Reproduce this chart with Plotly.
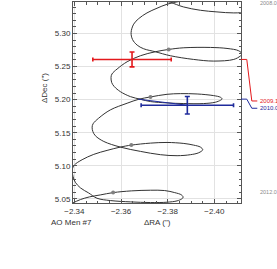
import plotly.graph_objects as go

# ---- model track of a background object (time ordered) ----
track_ra = [
    -2.3740, -2.3757, -2.3783, -2.3811, -2.3867, -2.3940, -2.4011, -2.4083, -2.4140, -2.4183, -2.4200,
    -2.4183, -2.4140, -2.4069, -2.3997, -2.3926, -2.3854, -2.3797, -2.3754, -2.3711, -2.3676, -2.3654, -2.3643,
    -2.3649, -2.3669, -2.3697, -2.3747, -2.3811, -2.3911, -2.3997, -2.4083, -2.4111, -2.4119,
    -2.4104, -2.4054, -2.3983, -2.3869, -2.3804, -2.3747, -2.3683, -2.3626, -2.3583, -2.3561, -2.3557,
    -2.3560, -2.3571, -2.3597, -2.3640, -2.3683, -2.3726, -2.3797, -2.3869, -2.3954, -2.4004, -2.4026, -2.4033,
    -2.4026, -2.3997, -2.3926, -2.3854, -2.3797, -2.3726, -2.3676, -2.3626, -2.3554, -2.3504, -2.3480, -2.3476,
    -2.3479, -2.3490, -2.3526, -2.3597, -2.3683, -2.3769, -2.3840, -2.3897, -2.3933, -2.3950,
    -2.3940, -2.3911, -2.3869, -2.3797, -2.3726, -2.3644, -2.3597, -2.3540, -2.3483, -2.3433, -2.3400, -2.3391,
    -2.3394, -2.3404, -2.3426, -2.3461, -2.3497, -2.3554, -2.3640, -2.3726, -2.3797, -2.3840, -2.3860, -2.3866,
    -2.3859, -2.3830, -2.3787, -2.3726, -2.3644, -2.3566, -2.3511, -2.3464, -2.3426, -2.3394, -2.3361,
]
track_dec = [
    5.3703, 5.3577, 5.3502, 5.3472, 5.3402, 5.3351, 5.3326, 5.3311, 5.3326, 5.3382, 5.3427,
    5.3477, 5.3512, 5.3532, 5.3527, 5.3507, 5.3487, 5.3442, 5.3382, 5.3311, 5.3226, 5.3141, 5.3015,
    5.2910, 5.2824, 5.2769, 5.2724, 5.2664, 5.2608, 5.2583, 5.2608, 5.2659, 5.2689,
    5.2739, 5.2774, 5.2789, 5.2784, 5.2759, 5.2724, 5.2664, 5.2573, 5.2463, 5.2388, 5.2337,
    5.2257, 5.2197, 5.2121, 5.2046, 5.2006, 5.1971, 5.1951, 5.1941, 5.1941, 5.1961, 5.1991, 5.2011,
    5.2036, 5.2061, 5.2086, 5.2091, 5.2081, 5.2041, 5.2006, 5.1946, 5.1845, 5.1720, 5.1635, 5.1584,
    5.1519, 5.1454, 5.1368, 5.1283, 5.1218, 5.1168, 5.1153, 5.1168, 5.1198, 5.1243,
    5.1283, 5.1313, 5.1338, 5.1353, 5.1343, 5.1313, 5.1283, 5.1233, 5.1173, 5.1092, 5.1012, 5.0942,
    5.0841, 5.0751, 5.0666, 5.0590, 5.0510, 5.0475, 5.0455, 5.0445, 5.0450, 5.0470, 5.0500, 5.0525,
    5.0560, 5.0595, 5.0626, 5.0631, 5.0621, 5.0595, 5.0560, 5.0530, 5.0490, 5.0440, 5.0380,
]

# yearly markers along the track
mark_ra = [-2.3804, -2.3726, -2.3644, -2.3566]
mark_dec = [5.2759, 5.2041, 5.1313, 5.0595]

# observations
obs_epochs = ["2009.1", "2010.0"]
obs_ra = [-2.3647, -2.3884]
obs_dec = [5.2608, 5.1915]
obs_ra_err = [0.0168, 0.0198]
obs_dec_err = [0.0113, 0.0132]
# predicted track position at each observation epoch
pred_ra = [-2.3647, -2.3673]
pred_dec = [5.2608, 5.2008]

# start / end epochs of the track
ref_epochs = ["2008.0", "2012.0"]
ref_dec = [5.3464, 5.0605]

obs_colors = ["#e3191c", "#1f2b9c"]
label_dec = [5.198, 5.187]

fig = go.Figure()

fig.add_trace(go.Scatter(
    x=track_ra, y=track_dec, mode="lines",
    line=dict(color="#333333", width=1, shape="spline", smoothing=1.0),
    hoverinfo="skip"))

fig.add_trace(go.Scatter(
    x=mark_ra, y=mark_dec, mode="markers",
    marker=dict(color="#808080", size=4), hoverinfo="skip"))

for i in range(len(obs_epochs)):
    c = obs_colors[i]
    # connection from predicted track point to measurement
    fig.add_trace(go.Scatter(
        x=[pred_ra[i], obs_ra[i]], y=[pred_dec[i], obs_dec[i]], mode="lines",
        line=dict(color=c, width=1), hoverinfo="skip"))
    fig.add_trace(go.Scatter(
        x=[obs_ra[i]], y=[obs_dec[i]], mode="markers",
        marker=dict(color=c, size=1),
        error_x=dict(type="data", array=[obs_ra_err[i]], color=c, thickness=1.6, width=2),
        error_y=dict(type="data", array=[obs_dec_err[i]], color=c, thickness=1.6, width=2.5),
        hoverinfo="skip"))
    # leader line to the epoch label in the right margin
    pts = [(1.0, pred_dec[i]), (1.0345, pred_dec[i]), (1.0643, label_dec[i]), (1.097, label_dec[i])]
    for (xa, ya), (xb, yb) in zip(pts[:-1], pts[1:]):
        fig.add_shape(type="line", xref="paper", yref="y", x0=xa, y0=ya, x1=xb, y1=yb,
                      line=dict(color=c, width=1))
    fig.add_annotation(xref="paper", yref="y", x=1.100, y=label_dec[i], text=obs_epochs[i],
                       showarrow=False, xanchor="left", yanchor="middle",
                       font=dict(size=6, color=c))

for e, d in zip(ref_epochs, ref_dec):
    fig.add_annotation(xref="paper", yref="y", x=1.100, y=d, text=e,
                       showarrow=False, xanchor="left", yanchor="middle",
                       font=dict(size=5.5, color="#8a8a8a"))

# axis titles and object name
fig.add_annotation(xref="paper", yref="paper", x=0.5, y=-0.098, text="ΔRA (\")",
                   showarrow=False, xanchor="center", yanchor="middle", font=dict(size=8, color="#333"))
fig.add_annotation(xref="paper", yref="paper", x=-0.1726, y=0.572, text="ΔDec (\")", textangle=-90,
                   showarrow=False, xanchor="center", yanchor="middle", font=dict(size=8, color="#333"))
fig.add_annotation(xref="paper", yref="paper", x=-0.143, y=-0.095, text="AO Men #7",
                   showarrow=False, xanchor="left", yanchor="middle", font=dict(size=8, color="#333"))

axis_common = dict(
    ticks="inside", ticklen=4, tickcolor="#555", tickwidth=1,
    showline=True, linecolor="#555", linewidth=1, mirror="ticks",
    showgrid=True, gridcolor="#e2e2e2", gridwidth=1, zeroline=False,
    tickformat=".2f", tickfont=dict(size=8, color="#333"),
)
fig.update_xaxes(range=[-2.3394, -2.4114], tick0=-2.34, dtick=0.02,
                 minor=dict(dtick=0.005, ticks="inside", ticklen=2.5, tickcolor="#555", showgrid=False),
                 **axis_common)
fig.update_yaxes(range=[5.0438, 5.3476], tick0=5.0, dtick=0.05,
                 minor=dict(dtick=0.01, ticks="inside", ticklen=2.5, tickcolor="#555", showgrid=False),
                 **axis_common)

fig.update_layout(
    width=277, height=269,
    margin=dict(l=73, r=36, t=2, b=66, pad=0),
    paper_bgcolor="white", plot_bgcolor="white",
    showlegend=False,
    font=dict(family="Liberation Sans, Arial, sans-serif", size=8, color="#333"),
)

fig.write_html("out.html", config={"displayModeBar": False},
               post_script="document.body.style.margin='0';")
